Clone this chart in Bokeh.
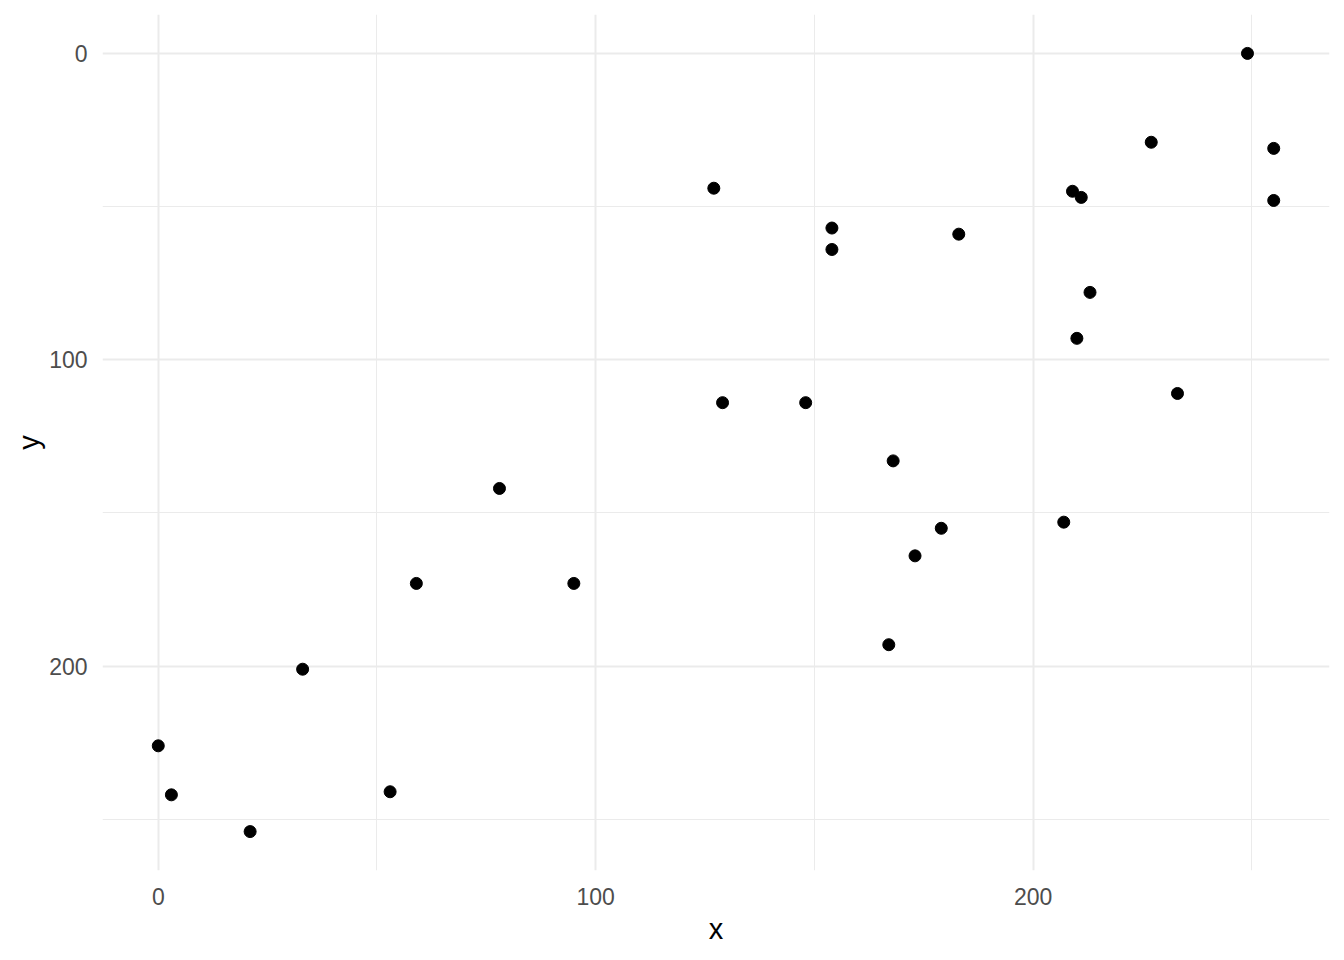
from bokeh.plotting import figure
from bokeh.models import ColumnDataSource, Range1d, FixedTicker
from bokeh.embed import file_html
from bokeh.resources import INLINE

x_vals = [0, 3, 21, 33, 53, 59, 78, 95, 127, 129, 148, 154, 154, 167, 168, 173,
          179, 183, 207, 209, 210, 211, 213, 227, 233, 249, 255, 255]
y_vals = [226, 242, 254, 201, 241, 173, 142, 173, 44, 114, 114, 57, 64, 193, 133, 164,
          155, 59, 153, 45, 93, 47, 78, 29, 111, 0, 31, 48]
major_ticks = [0, 100, 200]
minor_ticks = [50, 150, 250]

src = ColumnDataSource(data=dict(x=x_vals, y=y_vals))

xmin, xmax = min(x_vals), max(x_vals)
ymin, ymax = min(y_vals), max(y_vals)
xpad = (xmax - xmin) * 0.05
ypad = (ymax - ymin) * 0.05

p = figure(width=1336, height=952, output_backend="svg", toolbar_location=None,
           x_range=Range1d(xmin - xpad, xmax + xpad),
           y_range=Range1d(ymax + ypad, ymin - ypad),
           min_border_left=102, min_border_right=7, min_border_top=14, min_border_bottom=82)

p.scatter("x", "y", source=src, size=12, color="black")

p.outline_line_color = None
p.background_fill_color = "white"
p.border_fill_color = "white"

for ax in (p.xaxis[0], p.yaxis[0]):
    ax.ticker = FixedTicker(ticks=major_ticks, minor_ticks=minor_ticks)
    ax.axis_line_color = None
    ax.major_tick_line_color = None
    ax.minor_tick_line_color = None
    ax.major_label_text_font = "Liberation Sans"
    ax.major_label_text_font_size = "23px"
    ax.major_label_text_color = "#4D4D4D"
    ax.axis_label_text_font = "Liberation Sans"
    ax.axis_label_text_font_size = "29px"
    ax.axis_label_text_font_style = "normal"
    ax.axis_label_text_color = "black"

p.xaxis.axis_label = "x"
p.yaxis.axis_label = "y"
p.xaxis.major_label_standoff = 11
p.yaxis.major_label_standoff = 9
p.xaxis.axis_label_standoff = 5
p.yaxis.axis_label_standoff = 1

for g in (p.xgrid[0], p.ygrid[0]):
    g.grid_line_color = "#EBEBEB"
    g.grid_line_width = 2
    g.minor_grid_line_color = "#EBEBEB"
    g.minor_grid_line_width = 1

open("out.html", "w").write(file_html(p, INLINE))
